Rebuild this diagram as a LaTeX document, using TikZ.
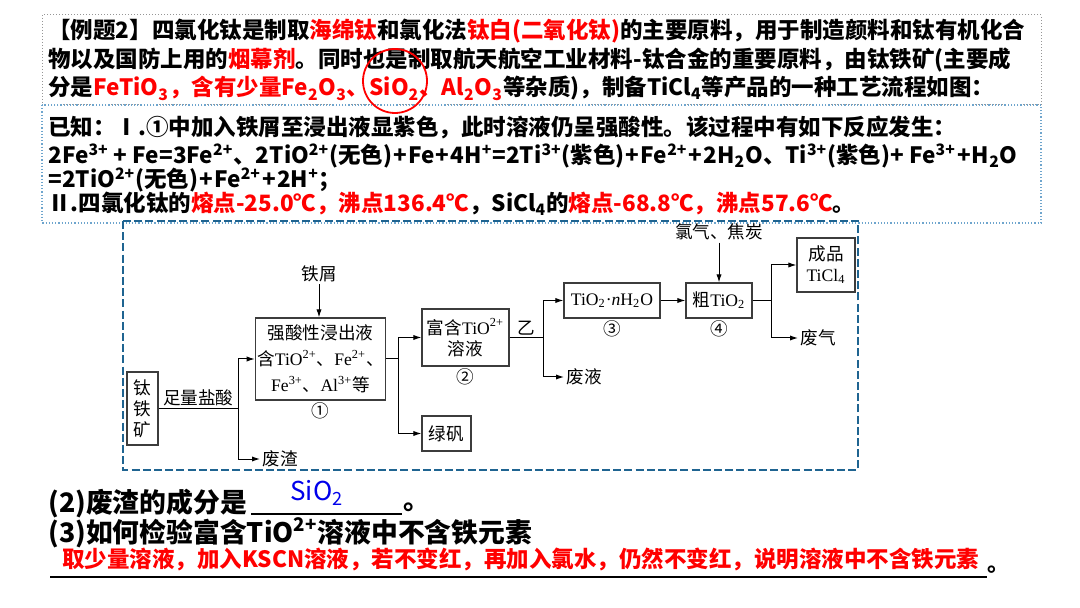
\documentclass[tikz,border=0pt]{standalone}
\usepackage{fontspec}
\setmainfont{Liberation Serif}
\newfontfamily\hei{Noto Sans CJK SC}
\newfontfamily\fcj{Noto Sans CJK SC}
\newfontfamily\tms{Liberation Serif}
\usetikzlibrary{arrows.meta,positioning}
\definecolor{hlred}{RGB}{255,0,0}
\definecolor{ansblue}{RGB}{0,0,235}
\definecolor{framebl}{RGB}{31,100,145}
\definecolor{dotgray}{RGB}{150,150,150}
\definecolor{dotblue}{RGB}{110,165,205}
\definecolor{boxline}{RGB}{60,60,60}
\newcommand\sps[1]{\textsuperscript{#1}}
\newcommand\sbs[1]{\textsubscript{#1}}
\newcommand\hl[1]{\textcolor{hlred}{#1}}
\newcommand\pl{\kern0.6pt+\kern0.6pt}
\newcommand\fcfont{\fcj\fontsize{8.8}{10.5}\selectfont}

\begin{document}
\begin{tikzpicture}[x=0.5pt, y=-0.5pt,
  txt/.style={anchor=west, inner sep=0pt, font=\hei\bfseries\fontsize{11.25}{13}\selectfont},
  bigtxt/.style={txt, font=\hei\bfseries\fontsize{13.4}{15}\selectfont},
  procbox/.style={draw=boxline, line width=0.6pt, align=center, inner sep=1pt, font=\fcfont},
  lbl/.style={inner sep=1pt, font=\fcfont},
  arr/.style={-{Latex[length=4pt,width=2.6pt]}, line width=0.5pt},
  ln/.style={line width=0.5pt}
]
  \fill[white] (0,0) rectangle (1080,608);
  \useasboundingbox (0,0) rectangle (1080,608);

  % question text
  \draw[dotgray, densely dotted, line width=0.5pt] (42,15) rectangle (1041,105);
  \draw[dotblue, densely dotted, line width=0.6pt] (42,105) rectangle (1041,223);
  \node[txt] (q1) at (48,31) {【例题2】四氯化钛是制取\hl{海绵钛}和氯化法\hl{钛白(二氧化钛)}的主要原料，用于制造颜料和钛有机化合};
  \node[txt] (q2) at (48,60) {物以及国防上用的\hl{烟幕剂}。同时也是制取航天航空工业材料-钛合金的重要原料，由钛铁矿(主要成};
  \node[txt] (q3) at (48,88.5) {分是\hl{FeTiO\sbs{3}，含有少量Fe\sbs{2}O\sbs{3}、SiO\sbs{2}、Al\sbs{2}O\sbs{3}}等杂质)，制备TiCl\sbs{4}等产品的一种工艺流程如图：};
  \draw[hlred, line width=0.9pt] (395,81) circle [radius=16pt];
  \node[txt] (k1) at (48,127) {已知：Ⅰ.①中加入铁屑至浸出液显紫色，此时溶液仍呈强酸性。该过程中有如下反应发生：};
  \node[txt] (k2) at (48,156) {2Fe\sps{3+} + Fe=3Fe\sps{2+}、2TiO\sps{2+}(无色)\pl Fe\pl 4H\sps{+}=2Ti\sps{3+}(紫色)\pl Fe\sps{2+}\pl 2H\sbs{2}O、Ti\sps{3+}(紫色)+ Fe\sps{3+}\pl H\sbs{2}O};
  \node[txt] (k3) at (48,180) {=2TiO\sps{2+}(无色)\pl Fe\sps{2+}\pl 2H\sps{+}；};
  \node[txt] (k4) at (48,204) {Ⅱ.四氯化钛的\hl{熔点-25.0℃，沸点136.4℃}，SiCl\sbs{4}的\hl{熔点-68.8℃，沸点57.6℃}。};

  % process flow
  \draw[framebl, line width=1.3pt, dash pattern=on 4pt off 1.6pt] (123,221) rectangle (858,470);
  \node[procbox, minimum width=15.5pt, minimum height=36.5pt] (ore) at (142.5,408.5) {钛\\铁\\矿};
  \node[procbox, minimum width=58.5pt, minimum height=41pt, font=\fcj\fontsize{8.8}{13}\selectfont] (leach) at (320.5,359)
    {强酸性浸出液\\含{\tms TiO\sps{2+}}、{\tms Fe\sps{2+}}、\\{\tms Fe\sps{3+}}、{\tms Al\sps{3+}}等};
  \node[procbox, minimum width=43.5pt, minimum height=28.5pt] (rich) at (465.5,337.5) {富含{\tms TiO\sps{2+}}\\溶液};
  \node[procbox, minimum width=24.5pt, minimum height=17.5pt] (alum) at (446.5,433.5) {绿矾};
  \node[procbox, minimum width=48pt, minimum height=17.5pt] (hyd) at (612,300.5) {\tms TiO\sbs{2}·\textit{n}H\sbs{2}O};
  \node[procbox, minimum width=33pt, minimum height=17.5pt] (crude) at (719,300.5) {粗{\tms TiO\sbs{2}}};
  \node[procbox, minimum width=29pt, minimum height=27pt] (prod) at (826,265) {成品\\{\tms TiCl\sbs{4}}};
  \node[lbl, anchor=west] (slag) at (260,459) {废渣};
  \node[lbl, anchor=west] (waste) at (564,377) {废液};
  \node[lbl, anchor=west] (gas) at (798,338) {废气};
  \node[lbl] (iron) at (319,274) {铁屑};
  \node[lbl] (chl) at (719,232) {氯气、焦炭};
  \node[lbl, below=0pt of leach] (n1) {①};
  \node[lbl, below=0pt of rich] (n2) {②};
  \node[lbl, below=0pt of hyd] (n3) {③};
  \node[lbl, below=0pt of crude] (n4) {④};
  \coordinate (j1) at (238,408.5);
  \coordinate (j2) at (398,359);
  \coordinate (j3) at (543,337.5);
  \coordinate (j4) at (771,300.5);

  \draw[ln] (ore.east) -- node[lbl, above] (acid) {足量盐酸} (j1);
  \draw[arr] (j1) |- (leach.west);
  \draw[arr] (j1) |- (slag.west);
  \draw[arr] (iron.south) -- (iron.south |- leach.north);
  \draw[ln] (leach.east) -- (j2);
  \draw[arr] (j2) |- (rich.west);
  \draw[arr] (j2) |- (alum.west);
  \draw[ln] (rich.east) -- node[lbl, above] (yi) {乙} (j3);
  \draw[arr] (j3) |- (hyd.west);
  \draw[arr] (j3) |- (waste.west);
  \draw[arr] (hyd) -- (crude);
  \draw[arr] (chl.south) -- (chl.south |- crude.north);
  \draw[ln] (crude.east) -- (j4);
  \draw[arr] (j4) |- (prod.west);
  \draw[arr] (j4) |- (gas.west);

  % answers
  \node[bigtxt] (a2) at (48,504) {(2)废渣的成分是};
  \coordinate (u1) at (251,514);
  \coordinate (u2) at (402,514);
  \draw[line width=0.6pt] (u1) -- (u2);
  \node[bigtxt] (d2) at (403,507) {。};
  \node[inner sep=0pt, text=ansblue, font=\hei\fontsize{13}{15}\selectfont] (sio) at (317,493) {SiO\sbs{2}};
  \node[bigtxt] (a3) at (48,533) {(3)如何检验富含TiO\sps{2+}溶液中不含铁元素};
  \node[txt, text=hlred] (ans) at (62,559) {取少量溶液，加入KSCN溶液，若不变红，再加入氯水，仍然不变红，说明溶液中不含铁元素};
  \coordinate (u3) at (50,577);
  \coordinate (u4) at (987,577);
  \draw[line width=0.6pt] (u3) -- (u4);
  \node[txt] (d3) at (987,570) {。};
\end{tikzpicture}
\end{document}
